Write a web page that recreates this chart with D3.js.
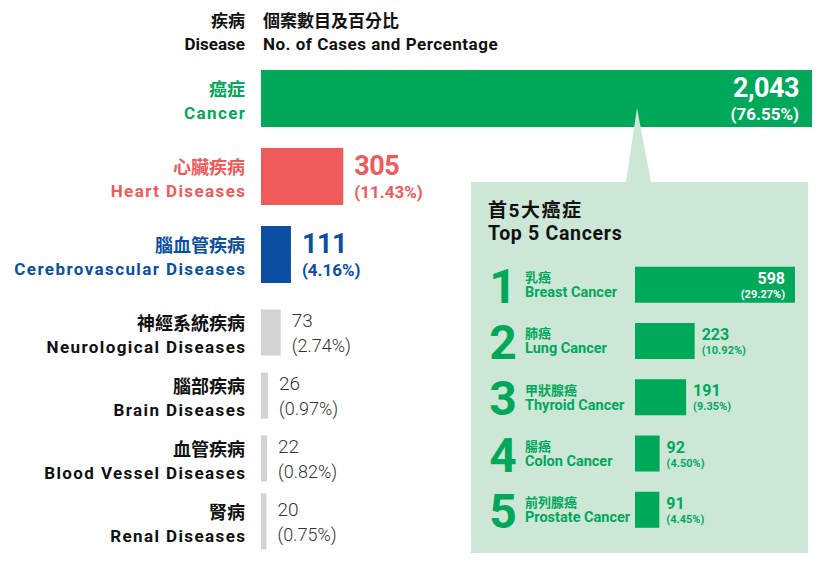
<!DOCTYPE html>
<html>
<head>
<meta charset="utf-8">
<script src="https://cdn.jsdelivr.net/npm/d3@7"></script>
<style>
  body { margin: 0; background: #fff; }
  svg text { font-family: "Roboto", "Noto Sans CJK TC", sans-serif; }
</style>
</head>
<body>
<svg id="chart" width="824" height="562"></svg>
<script>
// chart data
let diseasesZh = ["癌症", "心臟疾病", "腦血管疾病", "神經系統疾病", "腦部疾病", "血管疾病", "腎病"];
let diseasesEn = ["Cancer", "Heart Diseases", "Cerebrovascular Diseases", "Neurological Diseases", "Brain Diseases", "Blood Vessel Diseases", "Renal Diseases"];
let cases = [2043, 305, 111, 73, 26, 22, 20];
let percents = ["76.55%", "11.43%", "4.16%", "2.74%", "0.97%", "0.82%", "0.75%"];

let topZh = ["乳癌", "肺癌", "甲狀腺癌", "腸癌", "前列腺癌"];
let topEn = ["Breast Cancer", "Lung Cancer", "Thyroid Cancer", "Colon Cancer", "Prostate Cancer"];
let topCases = [598, 223, 191, 92, 91];
let topPercents = ["29.27%", "10.92%", "9.35%", "4.50%", "4.45%"];

// colours
let green = "#00a85a";
let barColor = ["#00a85a", "#f05a5b", "#0b4ea2", "#d1d2d4", "#d1d2d4", "#d1d2d4", "#d1d2d4"];
let labelColor = ["#00a85a", "#f05a5b", "#0b4ea2", "#111", "#111", "#111", "#111"];
let format = d3.format(",");

let svg = d3.select("#chart");

// ---- header ----
let head = svg.append("g").attr("font-weight", 700).attr("fill", "#111").attr("font-size", 17);
head.append("text").attr("x", 245).attr("y", 27).attr("text-anchor", "end").text("疾病");
head.append("text").attr("x", 245).attr("y", 50).attr("text-anchor", "end").text("Disease");
head.append("text").attr("x", 263).attr("y", 27).text("個案數目及百分比");
head.append("text").attr("x", 263).attr("y", 50).attr("letter-spacing", 0.5).text("No. of Cases and Percentage");

// ---- main bars ----
let x = d3.scaleLinear().domain([0, d3.max(cases)]).range([261, 812]);

// row centres: big coloured rows get more room than the grey ones
let centers = [];
cases.forEach(function(d, i) {
  centers.push(i === 0 ? 98.5 : centers[i - 1] + (i <= 3 ? 78 : 63));
});
function barH(i) {
  if (i < 3) return 57;
  return i === cases.length - 1 ? 56 : 46;
}

let rows = svg
  .append("g")
  .selectAll("g")
  .data(cases)
  .enter()
  .append("g");

rows
  .append("rect")
  .attr("x", x(0))
  .attr("y", function(d, i) { return centers[i] - barH(i) / 2; })
  .attr("width", function(d) { return x(d) - x(0); })
  .attr("height", function(d, i) { return barH(i); })
  .attr("fill", function(d, i) { return barColor[i]; });

// disease names
rows
  .append("text")
  .attr("x", 245)
  .attr("y", function(d, i) { return centers[i] - 3; })
  .attr("text-anchor", "end")
  .attr("font-size", 18)
  .attr("font-weight", 700)
  .attr("fill", function(d, i) { return labelColor[i]; })
  .text(function(d, i) { return diseasesZh[i]; });

rows
  .append("text")
  .attr("x", 246.4)
  .attr("y", function(d, i) { return centers[i] + 20.5; })
  .attr("text-anchor", "end")
  .attr("font-size", 17)
  .attr("font-weight", 700)
  .attr("letter-spacing", 1.4)
  .attr("fill", function(d, i) { return labelColor[i]; })
  .text(function(d, i) { return diseasesEn[i]; });

// value labels: inside the first bar, to the right of the others
rows.each(function(d, i) {
  let g = d3.select(this);
  let inside = i === 0;
  let major = i < 3;
  let vx = inside ? x(d) - 13 : x(d) + 11;
  let fill = inside ? "#fff" : major ? labelColor[i] : "#333";
  g.append("text")
    .attr("x", vx)
    .attr("y", centers[i] + (major ? -2 : -6))
    .attr("text-anchor", inside ? "end" : "start")
    .attr("font-size", major ? 27 : 19)
    .attr("font-weight", major ? 700 : 300)
    .attr("letter-spacing", major ? -0.5 : 0)
    .attr("fill", fill)
    .text(format(d));
  g.append("text")
    .attr("x", vx)
    .attr("y", centers[i] + (major ? 21 : 19))
    .attr("text-anchor", inside ? "end" : "start")
    .attr("font-size", major ? 17 : 18)
    .attr("font-weight", major ? 700 : 300)
    .attr("fill", fill)
    .text("(" + percents[i] + ")");
});

// ---- top 5 cancers panel ----
let panel = svg.append("g");
panel.append("polygon")
  .attr("points", "626,182 651,182 637,108")
  .attr("fill", "#cde7d6");
panel.append("rect")
  .attr("x", 471).attr("y", 182)
  .attr("width", 337).attr("height", 371)
  .attr("fill", "#cde7d6");

panel.append("text").attr("x", 488).attr("y", 217).attr("font-size", 19).attr("font-weight", 700)
  .attr("letter-spacing", 1.5).attr("fill", "#111").text("首5大癌症");
panel.append("text").attr("x", 488).attr("y", 240).attr("font-size", 19.5).attr("font-weight", 700)
  .attr("letter-spacing", 0.7).attr("fill", "#111").text("Top 5 Cancers");

let x2 = d3.scaleLinear().domain([0, d3.max(topCases)]).range([635, 795]);
let y2 = d3.scaleBand()
  .domain(topEn)
  .range([256.6, 537.9])
  .paddingInner(0.36)
  .paddingOuter(0.18);

let items = panel
  .append("g")
  .selectAll("g")
  .data(topCases)
  .enter()
  .append("g")
  .attr("transform", function(d, i) { return "translate(0," + y2(topEn[i]) + ")"; });

let bw = y2.bandwidth();

items.append("rect")
  .attr("x", x2(0))
  .attr("y", 0)
  .attr("width", function(d) { return x2(d) - x2(0); })
  .attr("height", bw)
  .attr("fill", green);

// big rank digit
items.append("text")
  .attr("x", 503)
  .attr("y", bw)
  .attr("text-anchor", "middle")
  .attr("font-size", 48)
  .attr("font-weight", 700)
  .attr("fill", green)
  .text(function(d, i) { return i + 1; });

items.append("text")
  .attr("x", 525)
  .attr("y", bw / 2 - 2.5)
  .attr("font-size", 13)
  .attr("font-weight", 700)
  .attr("fill", green)
  .text(function(d, i) { return topZh[i]; });

items.append("text")
  .attr("x", 525)
  .attr("y", bw / 2 + 12.5)
  .attr("font-size", 14.5)
  .attr("font-weight", 700)
  .attr("fill", green)
  .text(function(d, i) { return topEn[i]; });

items.each(function(d, i) {
  let g = d3.select(this);
  let inside = i === 0;
  let vx = inside ? x2(d) - 10 : x2(d) + 7;
  let fill = inside ? "#fff" : green;
  let anchor = inside ? "end" : "start";
  g.append("text")
    .attr("x", vx)
    .attr("y", bw / 2 - 1)
    .attr("text-anchor", anchor)
    .attr("font-size", 16)
    .attr("font-weight", 700)
    .attr("fill", fill)
    .text(format(d));
  g.append("text")
    .attr("x", vx)
    .attr("y", bw / 2 + 13)
    .attr("text-anchor", anchor)
    .attr("font-size", 11)
    .attr("font-weight", 700)
    .attr("fill", fill)
    .text("(" + topPercents[i] + ")");
});
</script>
</body>
</html>
